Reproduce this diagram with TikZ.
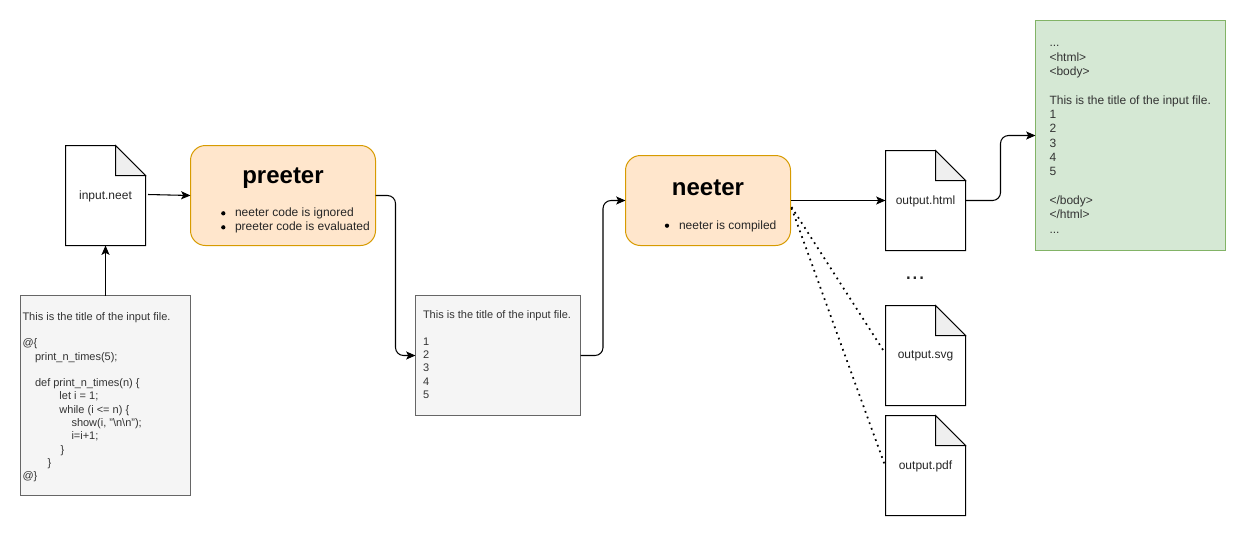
\documentclass[tikz,border=0pt]{standalone}
\usepackage{fontspec}
\setmainfont{Liberation Sans}
\usetikzlibrary{arrows.meta,calc}
\definecolor{grayfill}{HTML}{F5F5F5}
\definecolor{graystroke}{HTML}{666666}
\definecolor{graytext}{HTML}{333333}
\definecolor{orangefill}{HTML}{FFE6CC}
\definecolor{orangestroke}{HTML}{D79B00}
\definecolor{greenfill}{HTML}{D5E8D4}
\definecolor{greenstroke}{HTML}{82B366}
\definecolor{foldfill}{HTML}{EFEFEF}
\tikzset{
  box/.style={rectangle,inner sep=0pt,outer sep=0pt,line width=0.75pt},
  graybox/.style={box,draw=graystroke,fill=grayfill},
  greenbox/.style={box,draw=greenstroke,fill=greenfill},
  orangebox/.style={box,draw=orangestroke,fill=orangefill,rounded corners=11.25pt},
  docbox/.style={box,minimum width=60pt,minimum height=75pt,font=\fontsize{9}{11}\selectfont,text=black!85},
  docline/.style={line width=0.75pt,draw=black,line join=miter},
  docfold/.style={line width=0.75pt,draw=black,fill=foldfill,line join=miter},
  link/.style={line width=0.8pt,draw=black,-{Stealth[length=7pt,width=6pt,inset=1.5pt]},rounded corners=6pt},
  dotlink/.style={line width=1.3pt,draw=black,dash pattern=on 1.3pt off 3.2pt},
  plaintext/.style={inner sep=0pt,outer sep=0pt,align=left,anchor=north west,text=graytext,font=\fontsize{8.25}{9.94}\selectfont},
  greentext/.style={inner sep=0pt,outer sep=0pt,align=left,anchor=north west,text=graytext,font=\fontsize{9}{10.75}\selectfont},
  bullettext/.style={inner sep=0pt,outer sep=0pt,align=left,anchor=north west,text=black!85,font=\fontsize{9}{10.5}\selectfont},
  titletext/.style={inner sep=0pt,outer sep=0pt,font=\fontsize{18}{20}\selectfont\bfseries},
  bulletdot/.style={fill=black},
}
\newcommand{\docshape}[4]{%
  \node[docbox] (#1) at (#2,#3) {};
  \draw[docline,fill=white] (#1.north west) -- ($(#1.north east)+(-30,0)$) -- ($(#1.north east)+(0,30)$) -- (#1.south east) -- (#1.south west) -- cycle;
  \draw[docfold] ($(#1.north east)+(-30,0)$) -- ($(#1.north east)+(0,30)$) -- ($(#1.north east)+(-30,30)$) -- cycle;
  \node[docbox,yshift=-0.5pt] (#1label) at (#2,#3) {#4};
}
\begin{document}
\begin{tikzpicture}[x=0.75pt,y=-0.75pt]
\useasboundingbox (0,0) rectangle (1246,536);

\docshape{input}{105.5}{195.5}{input.neet}
\node[orangebox,minimum width=138.75pt,minimum height=75pt] (preeter) at (283,195.5) {};
\node[titletext] (preetertitle) at (283,178.5) {preeter};
\node[bullettext] (preeterlist) at (235,208) {neeter code is ignored\\preeter code is evaluated};
\fill[bulletdot] (223.3,213.3) circle[radius=1.6pt];
\fill[bulletdot] (223.3,227.3) circle[radius=1.6pt];

\node[graybox,minimum width=127.5pt,minimum height=150pt] (code) at (105.5,395.5) {};
\node[plaintext] (codetext) at (22.5,312.5) {This is the title of the input file.\\\mbox{}\\@\{\\\hspace*{9.4pt}print\_n\_times(5);\\\mbox{}\\\hspace*{9.4pt}def print\_n\_times(n) \{\\\hspace*{27.75pt}let i = 1;\\\hspace*{27.75pt}while (i <= n) \{\\\hspace*{36.75pt}show(i, "\textbackslash n\textbackslash n");\\\hspace*{36.75pt}i=i+1;\\\hspace*{28.5pt}\}\\\hspace*{18.75pt}\}\\@\}};

\node[graybox,minimum width=123.75pt,minimum height=90pt] (mid) at (498,355.5) {};
\node[plaintext] (midtext) at (423,311) {This is the title of the input file.\\\mbox{}\\1\\2\\3\\4\\5};

\node[orangebox,minimum width=123.75pt,minimum height=67.5pt] (neeter) at (708,200.5) {};
\node[titletext] (neetertitle) at (708,188) {neeter};
\node[bullettext] (neeterlist) at (679,221) {neeter is compiled};
\fill[bulletdot] (667,225.7) circle[radius=1.6pt];

\docshape{html}{925.5}{200.5}{output.html}
\docshape{svg}{925.5}{355.5}{output.svg}
\docshape{pdf}{925.5}{465.5}{output.pdf}
\node[inner sep=0pt,outer sep=0pt,font=\fontsize{18}{20}\selectfont,text=black!85] (moredots) at (915,278) {...};

\node[greenbox,minimum width=142.5pt,minimum height=172.5pt] (green) at (1130.5,135.5) {};
\node[greentext] (greentext) at (1049.5,45.5) {...\\<html>\\<body>\\\mbox{}\\This is the title of the input file.\\1\\2\\3\\4\\5\\\mbox{}\\</body>\\</html>\\...};

\coordinate (inputout) at (148,194.5);
\coordinate (dotstartA) at (791.5,207);
\coordinate (dotstartB) at (791.5,208);
\coordinate (svgin) at (885,353);
\coordinate (pdfin) at (885,465.5);

\draw[link] (code.north) -- (input.south);
\draw[link] (inputout) -- (preeter.west);
\draw[link] (preeter.east) -- ++(20,0) |- (mid.west);
\draw[link] (mid.east) -- ++(22.5,0) |- (neeter.west);
\draw[link] (neeter.east) -- (html.west);
\draw[link] (html.east) -- ++(35,0) |- (green.west);
\draw[dotlink] (dotstartA) -- (svgin);
\draw[dotlink] (dotstartB) -- (pdfin);
\end{tikzpicture}
\end{document}
